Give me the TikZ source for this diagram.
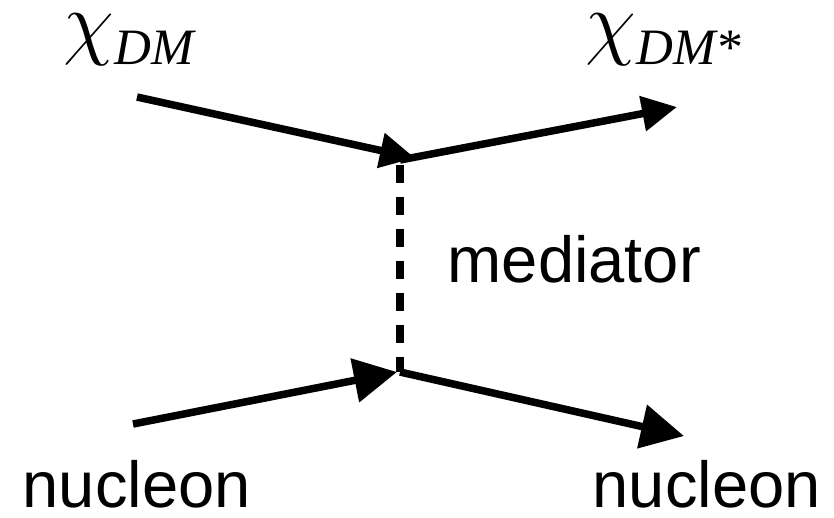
\documentclass[tikz,border=0pt]{standalone}
\usepackage{graphicx}
\usepackage{fontspec}
\setmainfont{Liberation Sans}
\newfontfamily\serifit{Liberation Serif}
\usetikzlibrary{arrows.meta}
\newcommand{\chisym}{\scalebox{1.133}{\fontsize{20.74}{25}\selectfont$\chi$}}
\newcommand{\subtx}[1]{\raisebox{-4.5pt}{\serifit\itshape\fontsize{14.5}{17}\selectfont #1}}
\begin{document}
\begin{tikzpicture}[x=0.01cm,y=-0.01cm,
  fermion/.style={line width=0.075cm,-{Triangle[length=0.35cm,width=0.34cm]}},
  fermionbig/.style={line width=0.075cm,-{Triangle[length=0.43cm,width=0.43cm]}},
  medline/.style={line width=0.075cm,dash pattern=on 0.18cm off 0.14cm},
  lbl/.style={inner sep=0pt,font=\fontsize{18.5}{22}\selectfont},
  chilbl/.style={inner sep=0pt}]
\useasboundingbox (0,0) rectangle (834,517);
\coordinate (tl) at (137,97);
\coordinate (tv) at (400,160);
\coordinate (tvtip) at (415,158);
\coordinate (tr) at (677,107);
\coordinate (bl) at (133,424);
\coordinate (bv) at (400,372);
\coordinate (bvtip) at (397,372);
\coordinate (br) at (684,436);
\coordinate (dtop) at (400,165);
\draw[fermion] (tl) -- (tvtip);
\draw[fermion] (tv) -- (tr);
\draw[fermionbig] (bl) -- (bvtip);
\draw[fermionbig] (bv) -- (br);
\draw[medline] (dtop) -- (bv);
\node[chilbl,anchor=base west] (chi1) at (63,49) {\chisym\subtx{DM}};
\node[chilbl,anchor=base west] (chi2) at (585,49) {\chisym\subtx{DM*}};
\node[lbl,anchor=base west] (med) at (447,282) {mediator};
\node[lbl,anchor=base west] (n1) at (22,507) {nucleon};
\node[lbl,anchor=base west] (n2) at (592,507) {nucleon};
\end{tikzpicture}
\end{document}
